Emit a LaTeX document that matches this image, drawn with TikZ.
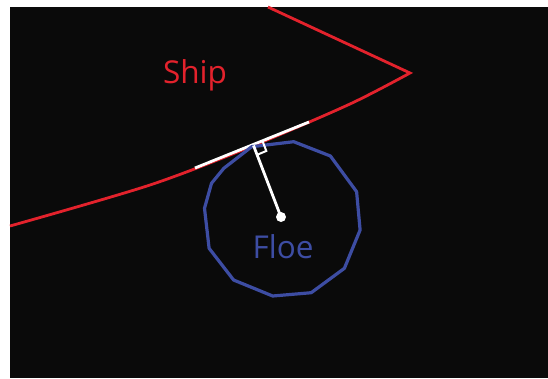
\documentclass[tikz,border=0pt]{standalone}
\usepackage{fontspec}
\setmainfont{Open Sans}
\usepackage{tikz}
\usetikzlibrary{calc}
\definecolor{shipred}{HTML}{E3222C}
\definecolor{floeblue}{HTML}{3D4DA3}
\definecolor{bgblack}{HTML}{0A0A0A}

\begin{document}
\begin{tikzpicture}[
  x=1pt, y=-1pt,
  hull/.style={draw=shipred, line width=2.8pt, line join=miter},
  floeline/.style={draw=floeblue, line width=3.2pt, line join=round},
  contactline/.style={draw=white, line width=2.8pt},
  label/.style={font=\fontsize{31.5}{32}\selectfont, anchor=base},
]
  \useasboundingbox (0,0) rectangle (548,378);
  \fill[white] (0,0) rectangle (548,378);
  \fill[bgblack] (10,7) rectangle (548,378);

  % named points
  \coordinate (stern) at (10,226);
  \coordinate (bow) at (410,73);
  \coordinate (deck) at (268,7);
  \coordinate (contact) at (253.5,145.5);
  \coordinate (centre) at (281,217);
  \coordinate (tanA) at (195,168);
  \coordinate (tanB) at (309,122);

  % ship hull
  \draw[hull] plot[smooth] coordinates {(stern) (150,185) (contact) (350,104) (bow)} -- (deck);

  % tangent at contact
  \draw[contactline] (tanA) -- (tanB);

  % floe outline
  \draw[floeline] (251.7,146.7) -- (293.7,141.7) -- (330.4,156) -- (356.6,191.7)
    -- (360.1,230) -- (344.4,268.3) -- (311.2,292.7) -- (272.7,296) -- (233.6,280)
    -- (209.1,248.3) -- (204.5,208.3) -- (211.5,183.3) -- (223.8,168.3) -- cycle;

  % normal and right angle
  \draw[contactline] (centre) -- (contact);
  \coordinate (sqA) at ($(contact)!10pt!(tanB)$);
  \coordinate (sqB) at ($(contact)!10pt!(centre)$);
  \draw[draw=white, line width=2pt] (sqA) -- ($(sqA)+(sqB)-(contact)$) -- (sqB);
  \fill[white] (centre) circle (5);

  \node[label, text=shipred] (ship) at (195,83) {Ship};
  \node[label, text=floeblue] (floe) at (283,258) {Floe};
\end{tikzpicture}
\end{document}
